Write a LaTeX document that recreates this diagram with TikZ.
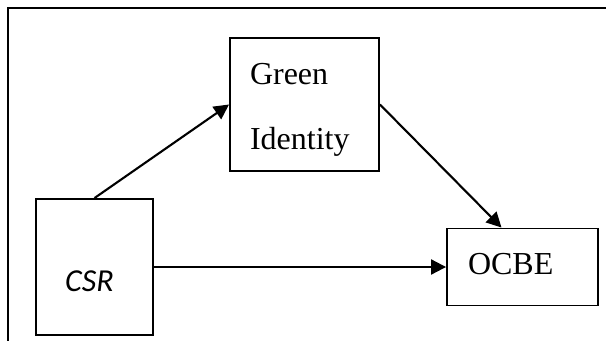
\documentclass[tikz,border=0pt]{standalone}
\usepackage{fontspec}
\setmainfont{Liberation Serif}
\newfontfamily\csrfont{Carlito}
\usepackage{tikz}
\usetikzlibrary{arrows.meta}

\begin{document}
\begin{tikzpicture}[x=1pt,y=-1pt,auto,node distance=428pt,
			line width=1.9pt,main node/.style={rectangle,draw,
				font=\fontsize{32}{65}\selectfont,inner sep=0pt},
			word node/.style={main node,align=left,text width=109pt,inner xsep=20pt}]
			\useasboundingbox (0,0) rectangle (606,341);
			
			% frame
			\draw (606,8) -- (8,8) -- (8,341);
			
			\node[main node,minimum width=117pt,minimum height=136pt,
				text height=48pt,text depth=0pt] (C) at (94.5,267) {\csrfont\itshape CSR\hspace*{10pt}};
			\node[word node,minimum height=133pt,text height=22pt,text depth=63pt] (G) at (304.5,104.5) {Green\\Identity};
			\node[word node,minimum height=77pt,text height=22pt,text depth=7pt,
				inner xsep=21pt] (O) [right of=C] {OCBE};
			
			\path[-{Triangle[length=15pt,width=15pt]},line width=2.1pt]
			(C.north) edge (G.west)
			(G.east) edge (O.118)
			(C) edge (O);
		\end{tikzpicture}
\end{document}
